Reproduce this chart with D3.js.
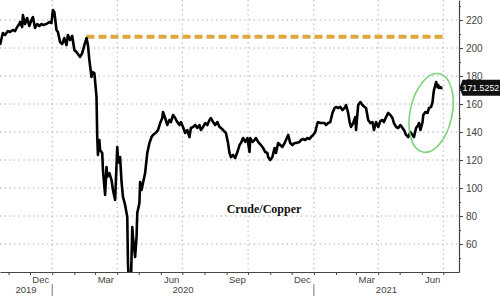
<!DOCTYPE html>
<html>
<head>
<meta charset="utf-8">
<script src="https://cdn.jsdelivr.net/npm/d3@7"></script>
<style>
  body { margin: 0; background: #fff; }
  svg { display: block; }
</style>
</head>
<body>
<div id="wrapper"></div>
<script>
// crude/copper ratio
var dates = [
  "2019-10-20","2019-10-24","2019-10-27","2019-10-31","2019-11-03","2019-11-07","2019-11-10","2019-11-13","2019-11-16","2019-11-17",
  "2019-11-20","2019-11-21","2019-11-24","2019-11-27","2019-11-30","2019-12-03","2019-12-05","2019-12-08","2019-12-11","2019-12-14",
  "2019-12-17","2019-12-19","2019-12-24","2019-12-28","2019-12-31","2020-01-02","2020-01-04","2020-01-07","2020-01-09","2020-01-12",
  "2020-01-15","2020-01-18","2020-01-21","2020-01-23","2020-01-26","2020-01-29","2020-02-01","2020-02-04","2020-02-06","2020-02-09",
  "2020-02-12","2020-02-15","2020-02-18","2020-02-20","2020-02-22","2020-02-25","2020-02-26","2020-02-29","2020-03-03","2020-03-04",
  "2020-03-05","2020-03-07","2020-03-08","2020-03-11","2020-03-12","2020-03-15","2020-03-17","2020-03-18","2020-03-21","2020-03-24",
  "2020-03-26","2020-03-29","2020-04-01","2020-04-02","2020-04-04","2020-04-05","2020-04-07","2020-04-09","2020-04-12","2020-04-15",
  "2020-04-16","2020-04-18","2020-04-20","2020-04-22","2020-04-23","2020-04-26","2020-04-28","2020-04-29","2020-05-02","2020-05-03",
  "2020-05-05","2020-05-07","2020-05-10","2020-05-13","2020-05-16","2020-05-19","2020-05-21","2020-05-26","2020-05-28","2020-05-31",
  "2020-06-03","2020-06-04","2020-06-07","2020-06-10","2020-06-13","2020-06-15","2020-06-18","2020-06-21","2020-06-24","2020-06-27",
  "2020-06-29","2020-07-02","2020-07-05","2020-07-08","2020-07-11","2020-07-13","2020-07-16","2020-07-19","2020-07-22","2020-07-25",
  "2020-07-27","2020-07-30","2020-08-02","2020-08-05","2020-08-08","2020-08-10","2020-08-13","2020-08-16","2020-08-19","2020-08-22",
  "2020-08-24","2020-08-27","2020-08-31","2020-09-03","2020-09-05","2020-09-07","2020-09-10","2020-09-13","2020-09-16","2020-09-19",
  "2020-09-21","2020-09-24","2020-09-27","2020-09-30","2020-10-03","2020-10-04","2020-10-07","2020-10-10","2020-10-12","2020-10-15",
  "2020-10-19","2020-10-22","2020-10-25","2020-10-28","2020-10-29","2020-11-01","2020-11-04","2020-11-07","2020-11-09","2020-11-12",
  "2020-11-15","2020-11-18","2020-11-21","2020-11-23","2020-11-26","2020-11-29","2020-12-02","2020-12-05","2020-12-07","2020-12-12",
  "2020-12-14","2020-12-17","2020-12-20","2020-12-23","2020-12-26","2020-12-28","2020-12-31","2021-01-03","2021-01-06","2021-01-07",
  "2021-01-10","2021-01-13","2021-01-16","2021-01-18","2021-01-21","2021-01-24","2021-01-27","2021-01-30","2021-02-01","2021-02-04",
  "2021-02-07","2021-02-10","2021-02-13","2021-02-15","2021-02-18","2021-02-20","2021-02-22","2021-02-25","2021-02-28","2021-03-01",
  "2021-03-04","2021-03-07","2021-03-10","2021-03-13","2021-03-15","2021-03-18","2021-03-21","2021-03-24","2021-03-26","2021-03-29",
  "2021-04-01","2021-04-04","2021-04-07","2021-04-09","2021-04-12","2021-04-15","2021-04-18","2021-04-21","2021-04-23","2021-04-26",
  "2021-04-29","2021-05-02","2021-05-05","2021-05-07","2021-05-10","2021-05-13","2021-05-16","2021-05-19","2021-05-21","2021-05-24",
  "2021-05-27","2021-05-28","2021-05-30","2021-06-02","2021-06-03","2021-06-06","2021-06-09","2021-06-11","2021-06-14","2021-06-16",
  "2021-06-17","2021-06-18","2021-06-20","2021-06-21","2021-06-23","2021-06-24","2021-06-25","2021-06-27","2021-06-28","2021-06-30"
];
var values = [
  202.1,210.7,209.3,212.1,211.4,212.9,212.1,215.0,217.1,218.6,
  215.0,223.6,217.1,221.4,215.7,220.0,222.1,214.3,217.1,215.7,
  217.1,216.4,217.1,218.6,217.9,227.1,225.7,212.9,211.4,204.3,
  202.9,207.1,202.1,209.3,205.7,208.6,198.6,197.1,195.7,193.6,
  196.4,202.1,207.1,202.1,191.4,179.3,182.9,182.1,165.0,136.4,
  123.6,134.3,127.1,125.0,112.9,95.0,115.0,107.9,110.7,105.7,
  98.6,91.4,129.3,122.1,117.9,122.1,104.3,93.6,87.9,79.3,
  46.4,25.0,30.0,72.1,65.0,50.7,65.0,82.1,89.3,104.3,
  98.6,103.6,110.7,125.0,132.1,136.4,137.9,140.0,141.4,146.4,
  150.0,154.3,150.0,145.0,148.6,147.1,152.1,150.0,147.1,145.0,
  147.1,143.6,139.3,141.4,136.4,142.9,143.6,145.0,142.9,145.0,
  141.4,143.6,146.4,145.0,148.6,150.0,147.1,145.0,147.1,143.6,
  142.9,141.4,139.3,132.1,125.0,122.1,123.6,121.4,125.7,130.7,
  132.1,135.7,132.9,135.7,125.7,135.7,132.9,134.3,135.7,132.9,
  130.7,128.6,125.7,125.0,122.1,120.0,122.1,128.6,125.0,132.1,
  130.7,129.3,132.1,134.3,137.9,132.1,130.7,132.1,132.1,132.9,
  134.3,135.0,134.3,135.7,135.0,136.4,137.9,140.0,146.4,147.1,
  146.4,146.4,146.4,145.0,146.4,147.1,153.6,157.1,157.9,157.1,
  157.9,155.7,157.1,159.3,153.6,147.1,143.6,146.4,150.7,141.4,
  159.3,161.4,159.3,157.9,157.1,148.6,146.4,147.1,141.4,147.1,
  143.6,147.9,148.6,147.1,150.7,153.6,152.1,150.0,146.4,143.6,
  142.9,145.0,142.9,141.4,137.9,136.4,140.0,137.9,136.4,142.9,
  145.0,146.4,141.4,147.1,152.1,154.3,153.6,157.1,157.9,161.4,
  166.4,170.0,173.6,175.7,172.1,173.6,171.4,172.1,171.4,171.5252
];

// dashed level line (Feb 2020 high carried forward)
var levelValue = 208;
var levelDates = ["2020-02-18", "2021-06-30"];

// green ellipse around the recent surge
var circleCenter = { date: "2021-06-14", value: 153.6 };

var yTicks = [60, 80, 100, 120, 140, 160, 180, 200, 220];
var yMinorTicks = [50, 70, 90, 110, 130, 150, 170, 190, 210, 230];
var monthLabels = ["Dec", "Mar", "Jun", "Sep", "Dec", "Mar", "Jun"];
var monthLabelDates = ["2019-12-16", "2020-03-16", "2020-06-16", "2020-09-16", "2020-12-16", "2021-03-16", "2021-06-16"];
var gridDates = ["2020-01-01", "2020-04-01", "2020-07-01", "2020-10-01", "2021-01-01", "2021-04-01", "2021-07-01"];
var yearLabels = ["2019", "2020", "2021"];
var yearStarts = ["2020-01-01", "2021-01-01"];
var chartTitle = "Crude/Copper";

var parse = d3.timeParse("%Y-%m-%d");

var width = 459, height = 272;

var svg = d3.select("#wrapper")
  .append("svg")
    .attr("width", 500)
    .attr("height", 296);

var x = d3.scaleTime()
  .domain([parse("2019-10-20"), parse("2021-07-23")])
  .range([0, width]);

var y = d3.scaleLinear()
  .domain([40, 234.29])
  .range([height, 0]);

var data = dates.map(function(d, i) { return { date: parse(d), value: values[i] }; });

/* dotted grid */
svg.append("g")
  .selectAll("line")
  .data(yTicks)
  .enter()
  .append("line")
    .attr("x1", 0).attr("x2", width)
    .attr("y1", function(d) { return y(d); })
    .attr("y2", function(d) { return y(d); })
    .attr("stroke", "#a8a8a8")
    .attr("stroke-dasharray", "1.3,3.4");

svg.append("g")
  .selectAll("line")
  .data(gridDates)
  .enter()
  .append("line")
    .attr("x1", function(d) { return x(parse(d)); })
    .attr("x2", function(d) { return x(parse(d)); })
    .attr("y1", 0).attr("y2", height)
    .attr("stroke", "#a8a8a8")
    .attr("stroke-dasharray", "1.3,3.4");

/* level line */
svg.append("line")
  .attr("x1", x(parse(levelDates[0])))
  .attr("x2", x(parse(levelDates[1])))
  .attr("y1", y(levelValue))
  .attr("y2", y(levelValue))
  .attr("stroke", "#e0a83c")
  .attr("stroke-width", 4)
  .attr("stroke-dasharray", "8,4");

/* main line, clipped to the plot */
svg.append("clipPath")
  .attr("id", "plotclip")
  .append("rect")
    .attr("x", 0).attr("y", 0)
    .attr("width", width).attr("height", height);

svg.append("path")
  .datum(data)
  .attr("clip-path", "url(#plotclip)")
  .attr("fill", "none")
  .attr("stroke", "#000")
  .attr("stroke-width", 2.6)
  .attr("stroke-linejoin", "round")
  .attr("d", d3.line()
    .x(function(d) { return x(d.date); })
    .y(function(d) { return y(d.value); }));

/* ellipse annotation */
svg.append("ellipse")
  .attr("transform", "translate(" + x(parse(circleCenter.date)) + "," + y(circleCenter.value) + ") rotate(12)")
  .attr("rx", 21)
  .attr("ry", 40)
  .attr("fill", "none")
  .attr("stroke", "#7dd37a")
  .attr("stroke-width", 1.6);

/* title */
svg.append("text")
  .attr("x", x(parse("2020-09-01")))
  .attr("y", y(82.5))
  .attr("font-family", "'Liberation Serif', 'Times New Roman', serif")
  .attr("font-weight", "bold")
  .attr("font-size", 12)
  .attr("fill", "#111")
  .text(chartTitle);

/* right axis */
var yAxis = svg.append("g")
  .attr("transform", "translate(" + width + ",0)")
  .call(d3.axisRight(y).tickValues(yTicks).tickSize(4).tickSizeOuter(0).tickPadding(3));
yAxis.select(".domain").attr("stroke", "#444").attr("stroke-width", 1.2);
yAxis.selectAll(".tick line").attr("stroke", "#444");
yAxis.selectAll("text")
  .attr("font-family", "'Liberation Sans', Arial, sans-serif")
  .attr("font-size", 10)
  .attr("fill", "#444");

svg.append("g")
  .attr("transform", "translate(" + width + ",0)")
  .call(d3.axisRight(y).tickValues(yMinorTicks).tickSize(2).tickFormat(""))
  .call(function(g) { g.select(".domain").remove(); })
  .selectAll("line").attr("stroke", "#444");

/* last value tag */
var lastY = y(values[values.length - 1]);
svg.append("path")
  .attr("d", "M" + (width + 0.5) + "," + lastY + " l3,-8 h41 v16 h-41 z")
  .attr("fill", "#111");
svg.append("text")
  .attr("x", width + 3.5)
  .attr("y", lastY + 3.2)
  .attr("font-family", "'Liberation Sans', Arial, sans-serif")
  .attr("font-size", 8.8)
  .attr("fill", "#fff")
  .text(String(values[values.length - 1]));

/* bottom axis: monthly ticks */
var xAxis = svg.append("g")
  .attr("transform", "translate(0," + height + ")")
  .call(d3.axisBottom(x).ticks(d3.timeMonth.every(1)).tickSize(3).tickSizeOuter(0).tickFormat(""));
xAxis.select(".domain").attr("stroke", "#444").attr("stroke-width", 1.2);
xAxis.selectAll(".tick line").attr("stroke", "#444");

svg.append("g")
  .selectAll("text")
  .data(monthLabels)
  .enter()
  .append("text")
    .attr("x", function(d, i) { return x(parse(monthLabelDates[i])); })
    .attr("y", 283)
    .attr("text-anchor", "middle")
    .attr("font-family", "'Liberation Sans', Arial, sans-serif")
    .attr("font-size", 9.5)
    .attr("fill", "#444")
    .text(function(d) { return d; });

/* year row */
var yearBounds = [0].concat(yearStarts.map(function(d) { return x(parse(d)); })).concat([width]);
svg.append("g")
  .selectAll("text")
  .data(yearLabels)
  .enter()
  .append("text")
    .attr("x", function(d, i) { return (yearBounds[i] + yearBounds[i + 1]) / 2; })
    .attr("y", 293)
    .attr("text-anchor", "middle")
    .attr("font-family", "'Liberation Sans', Arial, sans-serif")
    .attr("font-size", 9.5)
    .attr("fill", "#444")
    .text(function(d) { return d; });

svg.append("g")
  .selectAll("line")
  .data(yearStarts)
  .enter()
  .append("line")
    .attr("x1", function(d) { return x(parse(d)); })
    .attr("x2", function(d) { return x(parse(d)); })
    .attr("y1", 284).attr("y2", 296)
    .attr("stroke", "#777");
</script>
</body>
</html>
